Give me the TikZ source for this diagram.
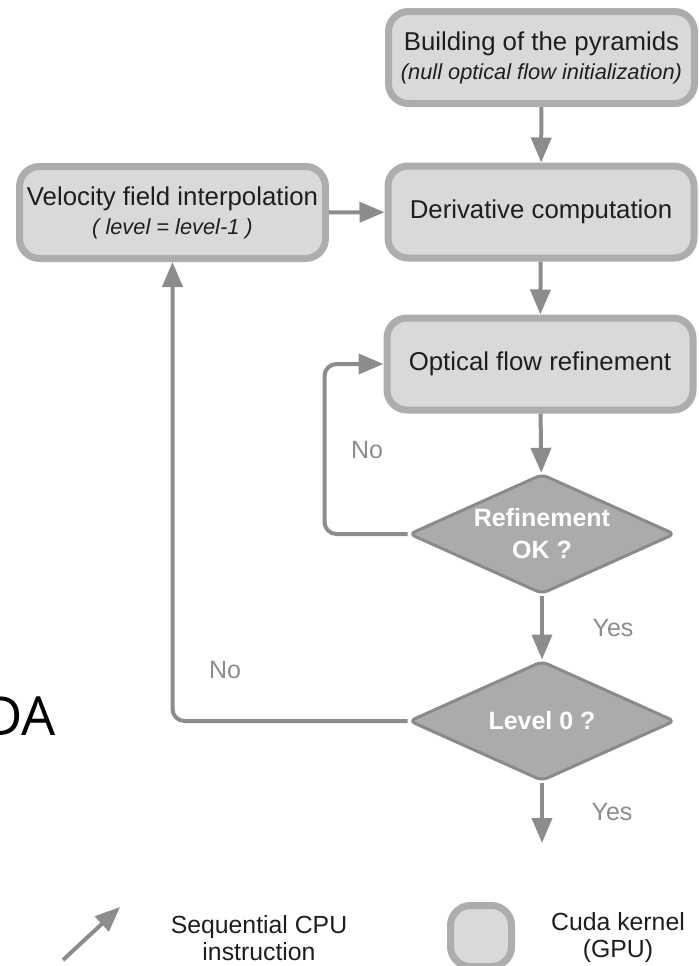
\documentclass[tikz,border=0pt]{standalone}
\usepackage{fontspec}
\setmainfont{Liberation Sans}
\newfontfamily\cutfont{Open Sans}
\usepackage{tikz}
\usetikzlibrary{arrows.meta,shapes.geometric}
\definecolor{kernelfill}{HTML}{D9D9D9}
\definecolor{kernelline}{HTML}{ADADAD}
\definecolor{testfill}{HTML}{ABABAB}
\definecolor{testline}{HTML}{8A8A8A}
\definecolor{flow}{HTML}{8C8C8C}
\definecolor{ink}{HTML}{1E1E1E}

\tikzset{
  kernel/.style={draw=kernelline, fill=kernelfill, line width=3.5pt, rounded corners=10pt,
    minimum width=153pt, minimum height=46pt, inner sep=0pt, align=center, text=ink,
    font=\fontsize{12.9}{14.5}\selectfont},
  test/.style={diamond, aspect=2.2, draw=testline, fill=testfill, line width=1.5pt,
    rounded corners=3pt, minimum width=133pt, minimum height=60pt, inner sep=0pt,
    align=center, text=white, font=\bfseries\fontsize{12.5}{16}\selectfont},
  flowarrow/.style={draw=flow, line width=2pt, -{Triangle[length=12.5pt,width=10pt]}},
  answer/.style={text=flow, font=\fontsize{12.5}{15}\selectfont},
  legendtext/.style={text=ink, align=center, font=\fontsize{12.4}{13.5}\selectfont}
}

\begin{document}
\begin{tikzpicture}[x=0.5pt,y=-0.5pt]
  \useasboundingbox (0,0) rectangle (699,966);
  % kernels
  \node[kernel] (pyr) at (541.5,57.5) {Building of the pyramids\\{\itshape\fontsize{10.9}{13}\selectfont (null optical flow initialization)}};
  \node[kernel] (deriv) at (541,212) {Derivative computation};
  \node[kernel] (velo) at (172.5,212.5) {Velocity field interpolation\\{\itshape\fontsize{10.9}{13}\selectfont ( level = level-1 )}};
  \node[kernel] (optic) at (540,364) {Optical flow refinement};
  % tests
  \node[test] (refok) at (542,534) {Refinement\\OK ?};
  \node[test] (lvl) at (542,721) {Level 0 ?};
  \coordinate (done) at (542,843);
  % flow
  \draw[flowarrow] (pyr) -- (deriv);
  \draw[flowarrow] (velo) -- (deriv);
  \draw[flowarrow] (deriv) -- (optic);
  \draw[flowarrow] (optic) -- (refok);
  \draw[flowarrow] (refok) -- (lvl);
  \draw[flowarrow] (lvl) -- (done);
  \draw[flowarrow, rounded corners=6pt] (refok.west) -- ++(-83,0) |- (optic.west);
  \draw[flowarrow, rounded corners=6pt] (lvl.west) -| (velo.south);
  \node[answer] (no1) at (367,450) {No};
  \node[answer] (no2) at (225,670) {No};
  \node[answer] (yes1) at (613,628) {Yes};
  \node[answer] (yes2) at (612,812) {Yes};
  % cut title
  \node[anchor=east, inner sep=0pt, text=black, font=\cutfont\fontsize{27}{27}\selectfont] (cut) at (56,716) {DA};
  % legend
  \coordinate (cputail) at (63,960);
  \coordinate (cpuhead) at (120,907);
  \draw[flowarrow] (cputail) -- (cpuhead);
  \node[legendtext] (cpu) at (259,938) {Sequential CPU\\instruction};
  \node[kernel, minimum width=30.5pt, minimum height=30.5pt] (gpubox) at (481,936) {};
  \node[legendtext] (gpu) at (618,938) {Cuda kernel\\(GPU)};
\end{tikzpicture}
\end{document}
